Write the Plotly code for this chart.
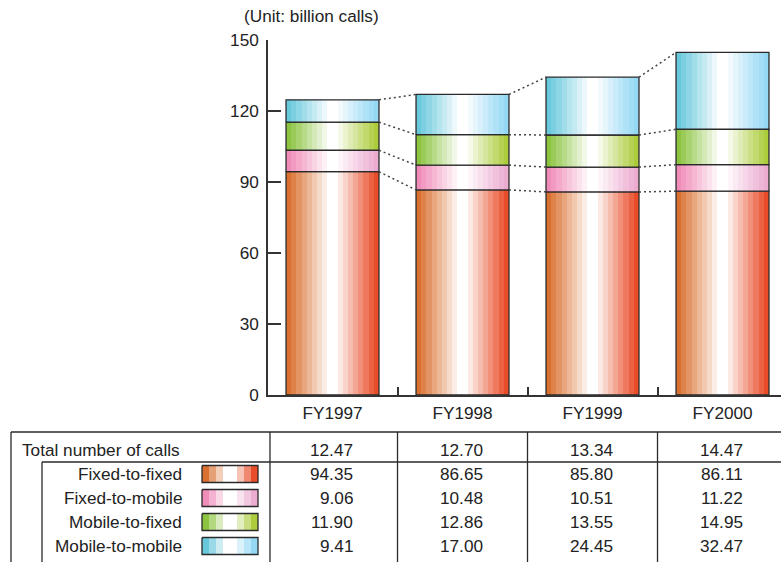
import plotly.graph_objects as go

# ---------------- data ----------------
years = ["FY1997", "FY1998", "FY1999", "FY2000"]
series_names = ["Fixed-to-fixed", "Fixed-to-mobile", "Mobile-to-fixed", "Mobile-to-mobile"]
fixed_to_fixed = [94.35, 86.65, 85.80, 86.11]
fixed_to_mobile = [9.06, 10.48, 10.51, 11.22]
mobile_to_fixed = [11.90, 12.86, 13.55, 14.95]
mobile_to_mobile = [9.41, 17.00, 24.45, 32.47]
total_calls = [12.47, 12.70, 13.34, 14.47]
y_ticks = [0, 30, 60, 90, 120, 150]
unit_label = "(Unit: billion calls)"
row_label_total = "Total number of calls"

series_values = [fixed_to_fixed, fixed_to_mobile, mobile_to_fixed, mobile_to_mobile]
# gradient end colours (left, right) per series
series_colors = [
    ((218, 112, 48), (232, 76, 40)),
    ((240, 140, 184), (236, 172, 208)),
    ((140, 196, 64), (172, 204, 60)),
    ((104, 200, 220), (148, 216, 244)),
]

W, H = 781, 562
FONT = "Liberation Sans, Arial, Helvetica, sans-serif"
FS = 17.2
TXT = "#222222"
LINE = "#2a2a2a"


def X(px):
    return px / W


def Y(py):
    return 1 - py / H


def mix(c, t):
    r = round(c[0] + (255 - c[0]) * t)
    g = round(c[1] + (255 - c[1]) * t)
    b = round(c[2] + (255 - c[2]) * t)
    return f"rgb({r},{g},{b})"


def stepped(left, right, n):
    cols = [mix(left, k / n) for k in range(n)]
    cols += ["rgb(255,255,255)", "rgb(255,255,255)"]
    cols += [mix(right, (n - m) / n) for m in range(1, n + 1)]
    total = len(cols)
    scale = []
    for i, c in enumerate(cols):
        scale.append([i / total, c])
        scale.append([(i + 1) / total, c])
    return scale


fig = go.Figure()

bar_w = 0.715
h = bar_w / 2

# stacked bars with stepped horizontal gradient
cum_tops = []
base = [0.0] * len(years)
for s, vals in enumerate(series_values):
    tops = [base[i] + vals[i] for i in range(len(years))]
    cs = stepped(series_colors[s][0], series_colors[s][1], 8)
    for i in range(len(years)):
        fig.add_trace(go.Scatter(
            x=[i - h, i + h, i + h, i - h, i - h],
            y=[base[i], base[i], tops[i], tops[i], base[i]],
            mode="lines", fill="toself",
            fillgradient=dict(type="horizontal", colorscale=cs),
            line=dict(color=LINE, width=1.3),
            showlegend=False, hoverinfo="skip",
            xaxis="x", yaxis="y",
        ))
    cum_tops.append(tops)
    base = tops

# dotted connectors between bars
for tops in cum_tops:
    for i in range(len(years) - 1):
        fig.add_trace(go.Scatter(
            x=[i + h, i + 1 - h], y=[tops[i], tops[i + 1]],
            mode="lines", line=dict(color="#444444", width=1.5, dash="2px,3px"),
            showlegend=False, hoverinfo="skip", xaxis="x", yaxis="y",
        ))

# legend swatches in the table (pixel-space overlay axes)
row_y = [450, 474, 498, 522, 546]
for s in range(len(series_names)):
    cy = row_y[s + 1]
    cs = stepped(series_colors[s][0], series_colors[s][1], 3)
    fig.add_trace(go.Scatter(
        x=[202, 258, 258, 202, 202],
        y=[cy - 8.5, cy - 8.5, cy + 8.5, cy + 8.5, cy - 8.5],
        mode="lines", fill="toself",
        fillgradient=dict(type="horizontal", colorscale=cs),
        line=dict(color=LINE, width=1.3),
        showlegend=False, hoverinfo="skip", xaxis="x2", yaxis="y2",
    ))

x0 = -0.4962
x1 = x0 + (W - 268) / 130

fig.update_layout(
    width=W, height=H,
    margin=dict(l=0, r=0, t=0, b=0, autoexpand=False),
    paper_bgcolor="white", plot_bgcolor="rgba(0,0,0,0)",
    font=dict(family=FONT, size=FS, color=TXT),
    showlegend=False,
    xaxis=dict(
        domain=[X(268), 1], range=[x0, x1], anchor="y",
        tickvals=list(range(len(years))), ticktext=years,
        ticks="", showgrid=False, zeroline=False,
        showline=True, linecolor="#333333", linewidth=1.5,
        tickfont=dict(size=FS, color=TXT), ticklabelstandoff=2,
        minor=dict(tickvals=[0.5, 1.5, 2.5], ticks="inside", ticklen=8,
                   tickwidth=1.5, tickcolor="#333333", showgrid=False),
    ),
    yaxis=dict(
        domain=[Y(395), Y(40)], range=[0, 150], anchor="x",
        tickvals=y_ticks, ticks="inside", ticklen=13, tickwidth=1.5,
        tickcolor="#333333", showgrid=False, zeroline=False,
        showline=True, linecolor="#333333", linewidth=1.5,
        tickfont=dict(size=FS, color=TXT), ticklabelstandoff=4,
    ),
    xaxis2=dict(domain=[0, 1], range=[0, W], visible=False, anchor="y2",
                fixedrange=True),
    yaxis2=dict(domain=[0, 1], range=[H, 0], visible=False, anchor="x2",
                fixedrange=True),
)

shapes = []
ln = dict(color=LINE, width=1.3)
shapes.append(dict(type="line", xref="paper", yref="paper",
                   x0=X(11), x1=1, y0=Y(432), y1=Y(432), line=ln))
shapes.append(dict(type="line", xref="paper", yref="paper",
                   x0=X(42), x1=1, y0=Y(462), y1=Y(462), line=ln))
shapes.append(dict(type="line", xref="paper", yref="paper",
                   x0=X(11), x1=X(11), y0=Y(432), y1=0, line=ln))
shapes.append(dict(type="line", xref="paper", yref="paper",
                   x0=X(42), x1=X(42), y0=Y(462), y1=0, line=ln))
for xv in [-0.481, 0.5, 1.5, 2.5]:
    shapes.append(dict(type="line", xref="x", yref="paper",
                       x0=xv, x1=xv, y0=Y(432), y1=0, line=ln))
fig.update_layout(shapes=shapes)

ann = []
ann.append(dict(text=unit_label, xref="paper", yref="paper", x=X(311), y=Y(16),
                showarrow=False, xanchor="center", yanchor="middle",
                font=dict(size=FS, color=TXT)))
ann.append(dict(text=row_label_total, xref="paper", yref="paper", x=X(20), y=Y(row_y[0]),
                showarrow=False, xanchor="left", yanchor="middle",
                font=dict(size=FS, color=TXT)))
for s, name in enumerate(series_names):
    ann.append(dict(text=name, xref="paper", yref="paper", x=X(184), y=Y(row_y[s + 1]),
                    showarrow=False, xanchor="right", yanchor="middle",
                    font=dict(size=FS, color=TXT)))
rows = [total_calls] + series_values
for r, vals in enumerate(rows):
    for i, v in enumerate(vals):
        ann.append(dict(text=f"{v:.2f}", xref="x", yref="paper", x=i + 0.17,
                        y=Y(row_y[r]), showarrow=False, xanchor="right",
                        yanchor="middle", font=dict(size=FS, color=TXT)))
fig.update_layout(annotations=ann)

fig.write_html(
    "out.html",
    config={"displayModeBar": False},
    post_script="document.body.style.margin='0';document.body.style.overflow='hidden';",
)
